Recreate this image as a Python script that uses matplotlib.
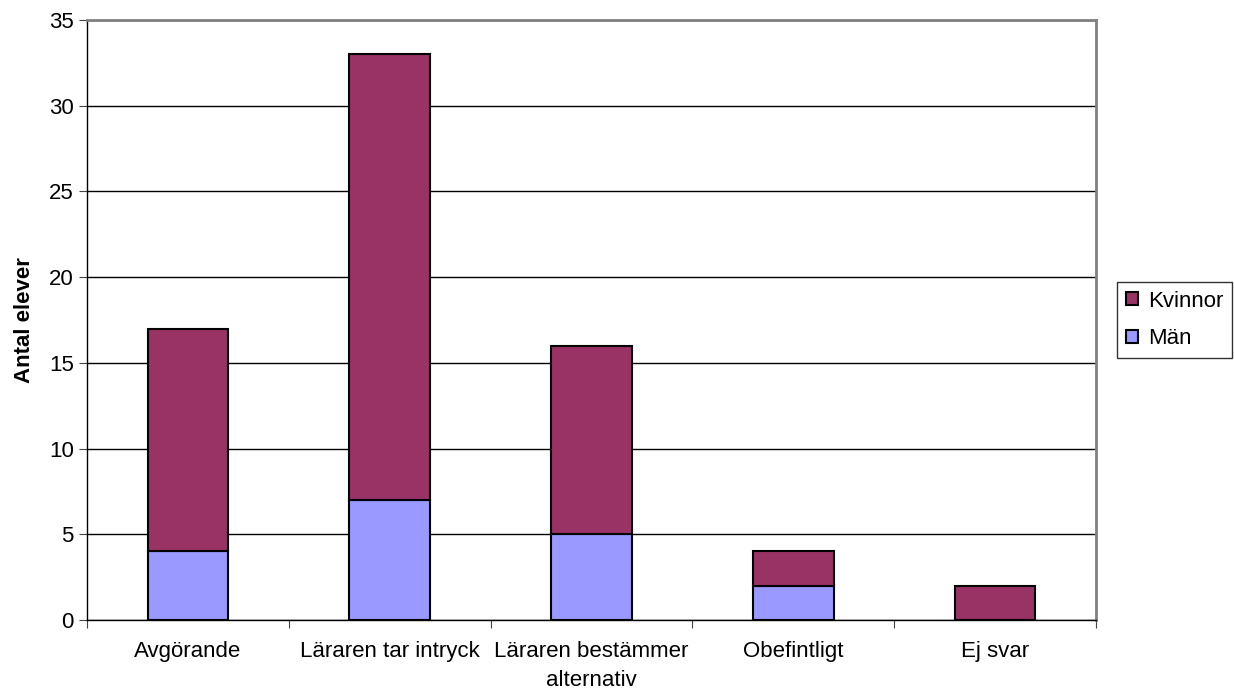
import numpy as np
import matplotlib
matplotlib.use('Agg')
import matplotlib.pyplot as plt

plt.rcParams['font.family'] = ['Liberation Sans', 'DejaVu Sans']

categories = ['Avgörande', 'Läraren tar intryck', 'Läraren bestämmer\nalternativ',
              'Obefintligt', 'Ej svar']
man = [4, 7, 5, 2, 0]
kvinnor = [13, 26, 11, 2, 2]

fig = plt.figure(figsize=(12.34, 6.91), dpi=100)
ax = fig.add_axes([0.0705, 0.1027, 0.8175, 0.8683])

x = np.arange(len(categories))
w = 0.4
ax.bar(x, man, w, color='#9999FF', edgecolor='black', linewidth=1.5, label='Män', zorder=3)
ax.bar(x, kvinnor, w, bottom=man, color='#993366', edgecolor='black', linewidth=1.5,
       label='Kvinnor', zorder=3)

ax.set_xlim(-0.5, len(categories) - 0.5)
ax.set_ylim(0, 35)
ax.set_yticks(range(0, 36, 5))
ax.yaxis.grid(True, color='black', linewidth=1, zorder=0)
ax.set_xticks(np.arange(-0.5, len(categories), 1))
ax.set_xticklabels([])
ax.set_xticks(x, minor=True)
ax.set_xticklabels(categories, minor=True, fontsize=16, linespacing=1.5)
ax.tick_params(axis='x', which='minor', length=0, pad=15)
ax.tick_params(axis='x', which='major', length=6, direction='out', color='#444444')
ax.tick_params(axis='y', length=6, direction='out', labelsize=16, color='#444444')

for s in ['top', 'right']:
    ax.spines[s].set_color('#808080')
    ax.spines[s].set_linewidth(2)
for s in ['left', 'bottom']:
    ax.spines[s].set_color('black')
    ax.spines[s].set_linewidth(1)

ax.set_ylabel('Antal elever', fontsize=16, fontweight='bold', labelpad=10)

handles, labels = ax.get_legend_handles_labels()
leg = fig.legend(handles[::-1], labels[::-1], loc='center left',
                 bbox_to_anchor=(0.905, 0.537), fontsize=16, frameon=True,
                 fancybox=False, edgecolor='black', handlelength=0.55, handleheight=0.55,
                 handletextpad=0.45, borderpad=0.4, borderaxespad=0, labelspacing=0.75)
leg.get_frame().set_linewidth(1)

fig.savefig('out.png', dpi=100)
